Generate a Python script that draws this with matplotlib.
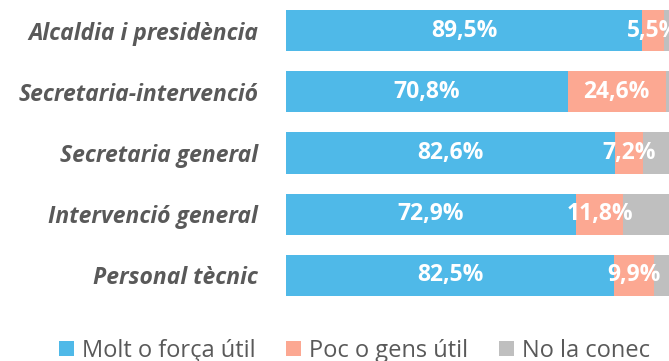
import matplotlib.pyplot as plt
from matplotlib.patches import Patch

# dades de l'enquesta (percentatges)
categories = ['Alcaldia i presidència', 'Secretaria-intervenció', 'Secretaria general',
              'Intervenció general', 'Personal tècnic']
molt_util = [89.5, 70.8, 82.6, 72.9, 82.5]
poc_util = [5.5, 24.6, 7.2, 11.8, 9.9]
no_conec = [round(100 - a - b, 1) for a, b in zip(molt_util, poc_util)]

series_names = ['Molt o força útil', 'Poc o gens útil', 'No la conec']
colors = ['#4FB9E8', '#FCA892', '#BFBFBF']

plt.rcParams['font.family'] = ['Open Sans', 'DejaVu Sans']

W, H = 669, 361
fig = plt.figure(figsize=(W / 100, H / 100), dpi=100)

# l'eix surt per la dreta de la figura (la barra del 100% queda tallada)
ax = fig.add_axes([286 / W, 65 / H, 398 / W, 286 / H])

y = list(range(len(categories)))
ax.barh(y, molt_util, height=0.67, color=colors[0])
ax.barh(y, poc_util, left=molt_util, height=0.67, color=colors[1])
left2 = [a + b for a, b in zip(molt_util, poc_util)]
ax.barh(y, no_conec, left=left2, height=0.67, color=colors[2])

for i in y:
    ax.text(molt_util[i] / 2, i, f'{molt_util[i]:.1f}%'.replace('.', ','),
            ha='center', va='center', color='white', fontsize=16.5, fontweight='bold')
    ax.text(molt_util[i] + poc_util[i] / 2, i, f'{poc_util[i]:.1f}%'.replace('.', ','),
            ha='center', va='center', color='white', fontsize=16.5, fontweight='bold')

ax.set_xlim(0, 100)
ax.set_ylim(len(categories) - 1 + 0.335, -0.335)
ax.set_yticks(y)
ax.set_yticklabels(categories, fontsize=16.5, fontweight='bold', fontstyle='italic', color='#595959')
ax.tick_params(axis='y', length=0, pad=20)
ax.set_xticks([])
for s in ax.spines.values():
    s.set_visible(False)

handles = [Patch(facecolor=c, edgecolor='none') for c in colors]
fig.legend(handles, series_names, loc='center left', bbox_to_anchor=(59 / W, 1 - 351 / H),
           ncol=3, frameon=False, fontsize=17, labelcolor='#595959',
           handlelength=0.63, handleheight=0.63, handletextpad=0.34,
           columnspacing=1.3, borderpad=0, borderaxespad=0)

fig.savefig('out.png', dpi=100)
